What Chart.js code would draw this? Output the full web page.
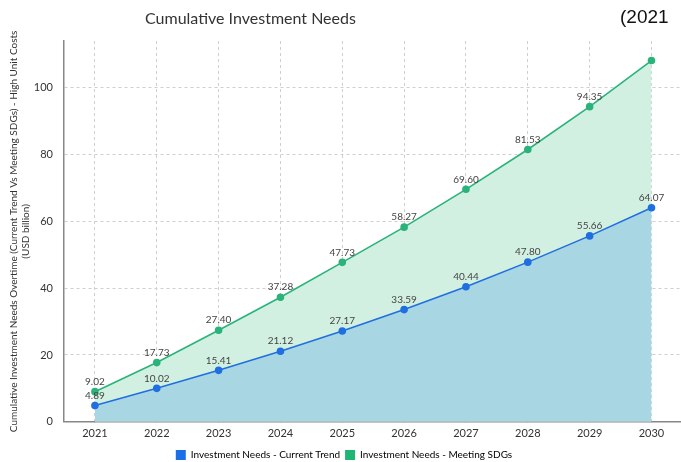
<!DOCTYPE html>
<html>
<head>
<meta charset="utf-8">
<script src="https://cdn.jsdelivr.net/npm/chart.js@4"></script>
<style>
  html, body { margin: 0; padding: 0; background: #fff; overflow: hidden; }
  #wrap { position: relative; width: 688px; height: 470px; }
  #title { position: absolute; left: 145px; top: 8px; font: 16px Lato, sans-serif; color: #333; white-space: nowrap; }
  #years { position: absolute; left: 620px; top: 6px; font: 19px "Liberation Sans", Arial, sans-serif; color: #111; white-space: nowrap; }
</style>
</head>
<body>
<div id="wrap">
  <canvas id="chart" width="688" height="470"></canvas>
  <div id="title">Cumulative Investment Needs</div>
  <div id="years">(2021</div>
</div>
<script>
const years = ["2021", "2022", "2023", "2024", "2025", "2026", "2027", "2028", "2029", "2030"];
const currentTrend = [4.89, 10.02, 15.41, 21.12, 27.17, 33.59, 40.44, 47.80, 55.66, 64.07];
const meetingSDGs = [9.02, 17.73, 27.40, 37.28, 47.73, 58.27, 69.60, 81.53, 94.35, 108.15];
const yTicks = [0, 20, 40, 60, 80, 100];

// value labels above each point, dropped when they would run off the top
const pointLabels = {
  id: "pointLabels",
  afterDatasetsDraw(chart) {
    const ctx = chart.ctx;
    const top = chart.chartArea.top;
    ctx.save();
    ctx.font = "10px Lato, sans-serif";
    ctx.fillStyle = "#444";
    ctx.textAlign = "center";
    ctx.textBaseline = "bottom";
    chart.data.datasets.forEach((ds, i) => {
      chart.getDatasetMeta(i).data.forEach((pt, j) => {
        const y = pt.y - 5;
        if (y - 10 < top + 12) return;
        ctx.fillText(ds.data[j].toFixed(2), pt.x, y);
      });
    });
    ctx.restore();
  }
};

new Chart(document.getElementById("chart"), {
  type: "line",
  data: {
    labels: years,
    datasets: [
      {
        label: "Investment Needs - Current Trend",
        data: currentTrend,
        borderColor: "#1f6fe0",
        backgroundColor: "#a9d6e3",
        pointBackgroundColor: "#1f6fe0",
        fill: "origin",
        borderWidth: 1.6,
        pointRadius: 3,
        tension: 0,
        order: 0
      },
      {
        label: "Investment Needs - Meeting SDGs",
        data: meetingSDGs,
        borderColor: "#2ab37a",
        backgroundColor: "#d2f0e2",
        pointBackgroundColor: "#2ab37a",
        fill: "origin",
        borderWidth: 1.6,
        pointRadius: 3,
        tension: 0,
        order: 1
      }
    ]
  },
  options: {
    responsive: false,
    animation: false,
    layout: { padding: { top: 41, right: 4, left: 4, bottom: 0 } },
    plugins: {
      legend: {
        position: "bottom",
        labels: {
          boxWidth: 10,
          boxHeight: 10,
          padding: 5,
          color: "#333",
          font: { family: "Lato", size: 10 },
          generateLabels(chart) {
            return chart.data.datasets.map((ds, i) => ({
              text: ds.label,
              fillStyle: i === 0 ? "#1a6fe8" : "#1fb574",
              strokeStyle: i === 0 ? "#1a6fe8" : "#1fb574",
              lineWidth: 0,
              datasetIndex: i
            }));
          }
        }
      },
      tooltip: { enabled: false }
    },
    scales: {
      x: {
        offset: true,
        grid: {
          offset: false,
          color: "#cfcfcf",
          tickLength: 0
        },
        border: { color: "#888", width: 1.5, dash: [3, 3] },
        ticks: { color: "#333", padding: 5, font: { family: "Lato", size: 11 } }
      },
      y: {
        min: 0,
        max: 114,
        afterBuildTicks(scale) {
          scale.ticks = yTicks.map(v => ({ value: v }));
        },
        afterFit(scale) {
          scale.width = 60;
        },
        grid: {
          color: "#cfcfcf",
          tickLength: 0
        },
        border: { color: "#888", width: 1.5, dash: [3, 3] },
        ticks: { color: "#333", padding: 11, font: { family: "Lato", size: 11 } },
        title: {
          display: true,
          text: ["Cumulative Investment Needs Overtime (Current Trend Vs Meeting SDGs) - High Unit Costs", "(USD billion)"],
          color: "#333",
          font: { family: "Lato", size: 10 },
          padding: { top: 4, bottom: 2 }
        }
      }
    }
  },
  plugins: [pointLabels]
});
</script>
</body>
</html>
